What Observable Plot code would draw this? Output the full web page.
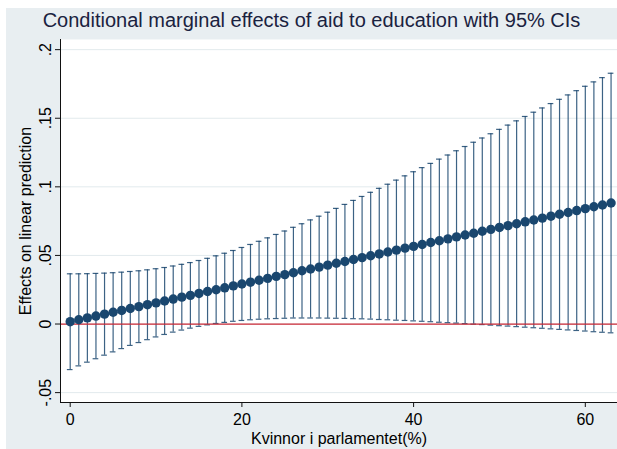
<!DOCTYPE html>
<html>
<head>
<meta charset="utf-8">
<script src="https://cdn.jsdelivr.net/npm/d3@7"></script>
<script src="https://cdn.jsdelivr.net/npm/@observablehq/plot@0.6"></script>
<style>
  html, body { margin: 0; padding: 0; background: #fff; }
  #chart { position: relative; width: 617px; height: 449px; overflow: hidden;
           font-family: "Liberation Sans", Arial, Helvetica, sans-serif; }
  #region { position: absolute; left: 6px; top: 8px; right: 0; bottom: 0; background: #e8eef1; }
  #title { position: absolute; left: 6px; right: 0; top: 8px; text-align: center;
           font-size: 20px; line-height: 24px; color: #1a2240; white-space: nowrap; }
  #chart svg { position: absolute; left: 0; top: 0; }
</style>
</head>
<body>
<div id="chart">
  <div id="region"></div>
  <div id="title">Conditional marginal effects of aid to education with 95% CIs</div>
</div>
<script>
// Share of women in parliament (%), the moderator
const share = [
  0, 1, 2, 3, 4, 5, 6, 7, 8, 9,
  10, 11, 12, 13, 14, 15, 16, 17, 18, 19,
  20, 21, 22, 23, 24, 25, 26, 27, 28, 29,
  30, 31, 32, 33, 34, 35, 36, 37, 38, 39,
  40, 41, 42, 43, 44, 45, 46, 47, 48, 49,
  50, 51, 52, 53, 54, 55, 56, 57, 58, 59,
  60, 61, 62, 63
];

// Marginal effect of aid to education at each level
const effect = [
  .0017, .0031, .0045, .0058, .0072, .0086, .0099, .0113, .0127, .0141,
  .0154, .0168, .0182, .0196, .0209, .0223, .0237, .0250, .0264, .0278,
  .0292, .0305, .0319, .0333, .0347, .0360, .0374, .0388, .0401, .0415,
  .0429, .0443, .0456, .0470, .0484, .0498, .0511, .0525, .0539, .0553,
  .0566, .0580, .0594, .0607, .0621, .0635, .0649, .0662, .0676, .0690,
  .0704, .0717, .0731, .0745, .0758, .0772, .0786, .0800, .0813, .0827,
  .0841, .0855, .0868, .0882
];

// Lower bound of the 95% confidence interval
const lower = [
  -.0332, -.0305, -.0278, -.0253, -.0227, -.0203, -.0179, -.0156, -.0135, -.0114,
  -.0094, -.0076, -.0059, -.0044, -.0030, -.0017, -.0006, .0004, .0012, .0020,
  .0026, .0031, .0035, .0038, .0040, .0042, .0044, .0044, .0044, .0044,
  .0043, .0042, .0041, .0039, .0038, .0036, .0033, .0031, .0028, .0026,
  .0023, .0020, .0017, .0013, .0010, .0007, .0003, -.0001, -.0004, -.0008,
  -.0012, -.0015, -.0019, -.0023, -.0027, -.0031, -.0035, -.0039, -.0043, -.0047,
  -.0051, -.0056, -.0060, -.0064
];

// Upper bound of the 95% confidence interval
const upper = [
  .0366, .0366, .0367, .0369, .0371, .0374, .0378, .0383, .0388, .0395,
  .0403, .0412, .0423, .0435, .0448, .0463, .0479, .0497, .0516, .0536,
  .0558, .0580, .0603, .0628, .0653, .0678, .0705, .0731, .0759, .0786,
  .0815, .0843, .0872, .0901, .0930, .0960, .0989, .1019, .1049, .1080,
  .1110, .1140, .1171, .1202, .1232, .1263, .1294, .1325, .1356, .1387,
  .1419, .1450, .1481, .1513, .1544, .1575, .1607, .1638, .1670, .1701,
  .1733, .1765, .1796, .1828
];

const xTicks = [0, 20, 40, 60];
const yTicks = [-0.05, 0, 0.05, 0.1, 0.15, 0.2];
const yTickLabels = ["-.05", "0", ".05", ".1", ".15", ".2"];
const xDomain = [-1.13, 63.75];
const yDomain = [-0.0572, 0.2074];

const rows = share.map((x, i) => ({x, effect: effect[i], lower: lower[i], upper: upper[i]}));

const navy = "#1a476f";
const capHalf = 0.33; // half-width of the CI caps, in x units
const font = '"Liberation Sans", Arial, Helvetica, sans-serif';

const chart = Plot.plot({
  width: 617,
  height: 449,
  marginLeft: 60,
  marginRight: 0,
  marginTop: 39,
  marginBottom: 47,
  style: {background: "transparent", fontFamily: font, fontSize: "16px", color: "#000", overflow: "visible"},
  x: {domain: xDomain},
  y: {domain: yDomain},
  marks: [
    Plot.frame({fill: "white", stroke: null}),
    Plot.gridY(yTicks, {stroke: "#e2eaed", strokeOpacity: 1, strokeWidth: 1}),
    Plot.ruleX(rows, {x: "x", y1: "lower", y2: "upper", stroke: navy, strokeWidth: 1.2, strokeOpacity: 0.85}),
    Plot.ruleY(rows, {y: "upper", x1: d => d.x - capHalf, x2: d => d.x + capHalf, stroke: navy, strokeWidth: 1.2, strokeOpacity: 0.85}),
    Plot.ruleY(rows, {y: "lower", x1: d => d.x - capHalf, x2: d => d.x + capHalf, stroke: navy, strokeWidth: 1.2, strokeOpacity: 0.85}),
    Plot.ruleY([0], {stroke: "#cc2a36", strokeWidth: 1.3}),
    Plot.dot(rows, {x: "x", y: "effect", r: 4.7, fill: navy, stroke: null}),
    Plot.ruleX([xDomain[0]], {stroke: "#111", strokeWidth: 1}),
    Plot.ruleY([yDomain[0]], {stroke: "#111", strokeWidth: 1}),
    Plot.axisX({ticks: xTicks, tickSize: 5, tickPadding: 6, label: null, stroke: "#111"}),
    Plot.axisY({ticks: yTicks, tickSize: 5, tickPadding: 5, tickRotate: -90,
                tickFormat: d => yTickLabels[yTicks.indexOf(d)], label: null, stroke: "#111"}),
    Plot.text(["Kvinnor i parlamentet(%)"], {frameAnchor: "bottom", dy: 41, lineAnchor: "bottom", textAnchor: "middle", fontSize: 16}),
    Plot.text(["Effects on linear prediction"], {frameAnchor: "left", dx: -30, rotate: -90, lineAnchor: "bottom", textAnchor: "middle", fontSize: 16})
  ]
});

document.getElementById("chart").appendChild(chart);
</script>
</body>
</html>
